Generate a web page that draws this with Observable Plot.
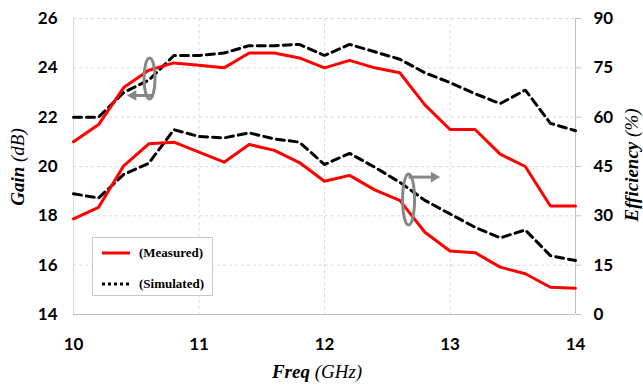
<!DOCTYPE html>
<html>
<head>
<meta charset="utf-8">
<script src="https://cdn.jsdelivr.net/npm/d3@7"></script>
<script src="https://cdn.jsdelivr.net/npm/@observablehq/plot@0.6"></script>
<style>
  html, body { margin: 0; padding: 0; background: #fff; }
  #wrap { position: relative; width: 643px; height: 385px; overflow: hidden; }
  .ttl { position: absolute; font-family: "Liberation Serif", "Times New Roman", serif; font-size: 19px; font-style: italic; white-space: nowrap; color: #000; }
  .ttl b { font-weight: bold; }
  .rot { transform: translate(-50%, -50%) rotate(-90deg); }
  #legend { position: absolute; left: 92px; top: 237px; width: 121px; height: 59px; border: 1px solid #c8c8c8; background: #fff; box-sizing: border-box; font-family: "Liberation Serif", "Times New Roman", serif; font-weight: bold; font-size: 13px; }
  #legend .row { position: absolute; left: 0; display: flex; align-items: center; }
  #legend svg { display: block; }
</style>
</head>
<body>
<div id="wrap"></div>
<script>
// ---- data ----
const freq = [10.0, 10.2, 10.4, 10.6, 10.8, 11.0, 11.2, 11.4, 11.6, 11.8, 12.0, 12.2, 12.4, 12.6, 12.8, 13.0, 13.2, 13.4, 13.6, 13.8, 14.0];
const gainMeasured  = [21.0, 21.7, 23.2, 23.9, 24.2, 24.1, 24.0, 24.6, 24.6, 24.4, 24.0, 24.3, 24.0, 23.8, 22.5, 21.5, 21.5, 20.5, 20.0, 18.4, 18.4];
const gainSimulated = [22.0, 22.0, 23.0, 23.5, 24.5, 24.5, 24.6, 24.9, 24.9, 24.95, 24.5, 24.95, 24.65, 24.35, 23.8, 23.4, 22.95, 22.55, 23.1, 21.75, 21.45];
const effMeasured   = [29.1, 32.6, 45.2, 51.9, 52.4, 49.4, 46.3, 51.7, 49.9, 46.2, 40.5, 42.3, 37.9, 34.7, 25.0, 19.3, 18.8, 14.4, 12.4, 8.3, 8.0];
const effSimulated  = [36.7, 35.4, 42.6, 46.0, 56.2, 54.1, 53.7, 55.2, 53.4, 52.4, 45.6, 49.0, 44.8, 40.2, 34.7, 30.6, 26.5, 23.3, 25.7, 17.9, 16.4];

const xTicks = [10, 11, 12, 13, 14];
const gainTicks = [14, 16, 18, 20, 22, 24, 26];
const effTicks = [0, 15, 30, 45, 60, 75, 90];
const seriesNames = ["(Measured)", "(Simulated)"];

// annotation anchors (data units)
const gainMarker = {x: 10.606, y: 23.57, arrowY: 22.88, arrowFrom: 10.64, arrowTo: 10.428};
const effMarker  = {x: 12.67, y: 18.66, arrowY: 19.57, arrowFrom: 12.67, arrowTo: 12.92};

// ---- mapping efficiency onto gain scale ----
const gMin = gainTicks[0], gMax = gainTicks[gainTicks.length - 1];
const eMax = effTicks[effTicks.length - 1];
const effToGain = e => gMin + e * (gMax - gMin) / eMax;

const rows = freq.map((f, i) => ({
  f, gm: gainMeasured[i], gs: gainSimulated[i],
  em: effToGain(effMeasured[i]), es: effToGain(effSimulated[i])
}));

function ellipse(rx, ry) {
  const k = 0.5523;
  return {draw(ctx) {
    ctx.moveTo(rx, 0);
    ctx.bezierCurveTo(rx, ry * k, rx * k, ry, 0, ry);
    ctx.bezierCurveTo(-rx * k, ry, -rx, ry * k, -rx, 0);
    ctx.bezierCurveTo(-rx, -ry * k, -rx * k, -ry, 0, -ry);
    ctx.bezierCurveTo(rx * k, -ry, rx, -ry * k, rx, 0);
    ctx.closePath();
  }};
}

const gridStyle = {stroke: "#d9d9d9", strokeOpacity: 1, strokeDasharray: "3,3", strokeWidth: 1};
const tickFont = {fontFamily: "Lato, 'Open Sans', sans-serif", fontWeight: "bold", fontSize: 17, fill: "#000"};
const annoGray = "#878787";

const chart = Plot.plot({
  width: 643,
  height: 385,
  marginLeft: 73,
  marginRight: 68,
  marginTop: 18,
  marginBottom: 71,
  style: {background: "#fff", overflow: "visible"},
  x: {domain: [10, 14]},
  y: {domain: [gMin, gMax]},
  marks: [
    Plot.gridY(gainTicks, {...gridStyle}),
    Plot.gridX(xTicks.slice(1, -1), {...gridStyle}),
    Plot.ruleX([xTicks[0]], {stroke: "#d9d9d9", strokeWidth: 1}),
    Plot.ruleX([xTicks[xTicks.length - 1]], {stroke: "#bfbfbf", strokeWidth: 1}),
    Plot.ruleY([gMin], {stroke: "#bfbfbf", strokeWidth: 1}),
    Plot.axisY(gainTicks, {anchor: "left", tickSize: 0, tickPadding: 16, label: null, tickFormat: d => String(d), ...tickFont}),
    Plot.axisY(gainTicks, {anchor: "right", tickSize: 5, stroke: "#bfbfbf", tickPadding: 13, label: null,
      tickFormat: d => String(effTicks[gainTicks.indexOf(d)]), ...tickFont}),
    Plot.axisX(xTicks, {anchor: "bottom", tickSize: 0, tickPadding: 23, label: null, tickFormat: d => String(d), ...tickFont}),
    // simulated (dashed)
    Plot.line(rows, {x: "f", y: "gs", stroke: "#000", strokeWidth: 3, strokeDasharray: "8,5", strokeLinejoin: "miter"}),
    Plot.line(rows, {x: "f", y: "es", stroke: "#000", strokeWidth: 3, strokeDasharray: "8,5", strokeLinejoin: "miter"}),
    // measured (solid red)
    Plot.line(rows, {x: "f", y: "gm", stroke: "#ff0000", strokeWidth: 3}),
    Plot.line(rows, {x: "f", y: "em", stroke: "#ff0000", strokeWidth: 3}),
    // annotations: ellipses + arrows
    Plot.dot([gainMarker], {x: "x", y: "y", symbol: ellipse(5.5, 20.5), r: 1, fill: "none", stroke: annoGray, strokeWidth: 3}),
    Plot.link([gainMarker], {x1: "arrowFrom", x2: d => d.arrowTo + 0.05, y1: "arrowY", y2: "arrowY", stroke: annoGray, strokeWidth: 3}),
    Plot.dot([gainMarker], {x: "arrowTo", y: "arrowY", dx: 6, symbol: "triangle", rotate: -90, r: 4, fill: annoGray, stroke: "none"}),
    Plot.dot([effMarker], {x: "x", y: "y", symbol: ellipse(6, 25.5), r: 1, fill: "none", stroke: annoGray, strokeWidth: 3}),
    Plot.link([effMarker], {x1: "arrowFrom", x2: d => d.arrowTo - 0.05, y1: "arrowY", y2: "arrowY", stroke: annoGray, strokeWidth: 3}),
    Plot.dot([effMarker], {x: "arrowTo", y: "arrowY", dx: -6, symbol: "triangle", rotate: 90, r: 4, fill: annoGray, stroke: "none"})
  ]
});

const wrap = document.getElementById("wrap");
wrap.appendChild(chart);

// axis titles
const yTitle = document.createElement("div");
yTitle.className = "ttl rot";
yTitle.style.left = "18px"; yTitle.style.top = "167px";
yTitle.innerHTML = "<b>Gain</b> (dB)";
wrap.appendChild(yTitle);

const y2Title = document.createElement("div");
y2Title.className = "ttl rot";
y2Title.style.left = "632px"; y2Title.style.top = "165px";
y2Title.innerHTML = "<b>Efficiency</b> (%)";
wrap.appendChild(y2Title);

const xTitle = document.createElement("div");
xTitle.className = "ttl";
xTitle.style.left = "317px"; xTitle.style.top = "372px";
xTitle.style.transform = "translate(-50%, -50%)";
xTitle.innerHTML = "<b>Freq</b> (GHz)";
wrap.appendChild(xTitle);

// legend
const legend = document.createElement("div");
legend.id = "legend";
legend.innerHTML = `
  <div class="row" style="top:6px;left:9px;">
    <svg width="28" height="18"><line x1="0" y1="9" x2="28" y2="9" stroke="#ff0000" stroke-width="3"/></svg>
    <span style="margin-left:9px">${seriesNames[0]}</span>
  </div>
  <div class="row" style="top:37px;left:9px;">
    <svg width="28" height="18"><line x1="0" y1="9" x2="27" y2="9" stroke="#000" stroke-width="3" stroke-dasharray="3,3"/></svg>
    <span style="margin-left:9px">${seriesNames[1]}</span>
  </div>`;
wrap.appendChild(legend);
</script>
</body>
</html>
